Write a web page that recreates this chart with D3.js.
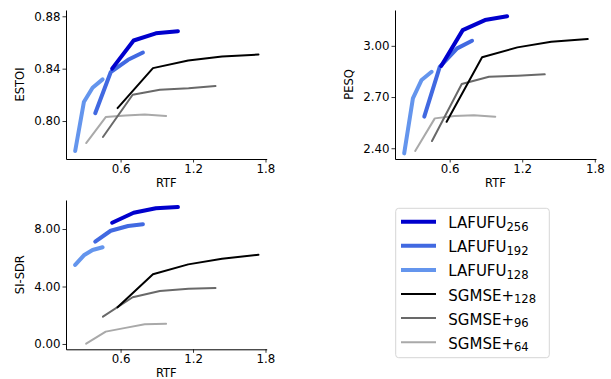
<!DOCTYPE html>
<html>
<head>
<meta charset="utf-8">
<script src="https://cdn.jsdelivr.net/npm/d3@7"></script>
<style>
  body { margin: 0; background: #fff; }
  svg { display: block; font-family: "DejaVu Sans", sans-serif; }
</style>
</head>
<body>
<div id="chart"></div>
<script>
// series names, as in the legend
const seriesNames = ["LAFUFU", "LAFUFU", "LAFUFU", "SGMSE+", "SGMSE+", "SGMSE+"];
const seriesSubs = ["256", "192", "128", "128", "96", "64"];

// RTF (x) for each series
const rtfLafufu256 = [0.53, 0.708, 0.892, 1.075];
const rtfLafufu192 = [0.39, 0.518, 0.662, 0.785];
const rtfLafufu128 = [0.224, 0.296, 0.368, 0.451];
const rtfSgmse128 = [0.575, 0.868, 1.16, 1.44, 1.742];
const rtfSgmse96 = [0.454, 0.70, 0.925, 1.163, 1.386];
const rtfSgmse64 = [0.315, 0.477, 0.64, 0.80, 0.977];

// ESTOI
const estoiLafufu256 = [0.840, 0.8615, 0.867, 0.8686];
const estoiLafufu192 = [0.806, 0.8373, 0.8468, 0.8523];
const estoiLafufu128 = [0.7771, 0.8145, 0.8254, 0.8318];
const estoiSgmse128 = [0.8099, 0.8404, 0.8462, 0.8493, 0.8508];
const estoiSgmse96 = [0.7878, 0.8201, 0.8239, 0.8251, 0.8267];
const estoiSgmse64 = [0.7832, 0.803, 0.8042, 0.8049, 0.8038];

// PESQ
const pesqLafufu256 = [2.882, 3.092, 3.151, 3.173];
const pesqLafufu192 = [2.585, 2.877, 2.985, 3.030];
const pesqLafufu128 = [2.370, 2.692, 2.800, 2.848];
const pesqSgmse128 = [2.555, 2.933, 2.991, 3.024, 3.040];
const pesqSgmse96 = [2.442, 2.776, 2.819, 2.825, 2.833];
const pesqSgmse64 = [2.384, 2.575, 2.589, 2.594, 2.585];

// SI-SDR
const sisdrLafufu256 = [8.44, 9.13, 9.44, 9.53];
const sisdrLafufu192 = [7.12, 7.88, 8.21, 8.33];
const sisdrLafufu128 = [5.50, 6.17, 6.54, 6.73];
const sisdrSgmse128 = [2.55, 4.85, 5.54, 5.93, 6.21];
const sisdrSgmse96 = [1.90, 3.25, 3.69, 3.85, 3.90];
const sisdrSgmse64 = [0.02, 0.86, 1.12, 1.37, 1.41];

// tick labels
const xTicks = [0.6, 1.2, 1.8];
const estoiTicks = [0.80, 0.84, 0.88];
const pesqTicks = [2.40, 2.70, 3.00];
const sisdrTicks = [0.00, 4.00, 8.00];

const rtfAll = [rtfLafufu256, rtfLafufu192, rtfLafufu128, rtfSgmse128, rtfSgmse96, rtfSgmse64];
const colors = ["#0000cd", "#4169e1", "#6495ed", "#000000", "#696969", "#a9a9a9"];
const widths = [4, 4, 4, 2, 2, 2];

const W = 611, H = 379;
const svg = d3.select("#chart").append("svg")
  .attr("width", W).attr("height", H);

const xLim = [0.148, 1.81];

function panel(opts) {
  const x = d3.scaleLinear().domain(xLim).range([opts.left, opts.right]);
  const y = d3.scaleLinear().domain(opts.yLim).range([opts.bottom, opts.top]);
  const g = svg.append("g");

  // lines, drawn last-to-first so the first legend entry sits on top
  const line = d3.line().x(d => x(d[0])).y(d => y(d[1]));
  for (let i = opts.values.length - 1; i >= 0; i--) {
    const pts = rtfAll[i].map((r, j) => [r, opts.values[i][j]]);
    g.append("path")
      .datum(pts)
      .attr("d", line)
      .attr("fill", "none")
      .attr("stroke", colors[i])
      .attr("stroke-width", widths[i])
      .attr("stroke-linecap", "round")
      .attr("stroke-linejoin", "round");
  }

  const xAxis = g.append("g")
    .attr("transform", `translate(0,${opts.bottom})`)
    .call(d3.axisBottom(x).tickValues(xTicks).tickFormat(d3.format(".1f"))
      .tickSize(3.5).tickSizeOuter(0).tickPadding(2));
  const yAxis = g.append("g")
    .attr("transform", `translate(${opts.left},0)`)
    .call(d3.axisLeft(y).tickValues(opts.yTicks).tickFormat(d3.format(".2f"))
      .tickSize(3.5).tickSizeOuter(0).tickPadding(2));
  [xAxis, yAxis].forEach(a => {
    a.selectAll("text").attr("font-size", 11.8).attr("fill", "#000")
      .attr("font-family", "DejaVu Sans, sans-serif");
    a.selectAll("line").attr("stroke", "#000").attr("stroke-width", 0.8);
    a.select(".domain").attr("stroke", "#000").attr("stroke-width", 1);
  });

  g.append("text")
    .attr("x", (opts.left + opts.right) / 2)
    .attr("y", opts.bottom + 28)
    .attr("text-anchor", "middle")
    .attr("font-size", 11.5)
    .text("RTF");
  const cy = (opts.top + opts.bottom) / 2;
  g.append("text")
    .attr("transform", `translate(${opts.labelX},${cy}) rotate(-90)`)
    .attr("text-anchor", "middle")
    .attr("font-size", 11.5)
    .text(opts.label);
}

panel({
  left: 66, right: 266.7, top: 10, bottom: 159,
  yLim: [0.7710, 0.8848], yTicks: estoiTicks, label: "ESTOI", labelX: 24,
  values: [estoiLafufu256, estoiLafufu192, estoiLafufu128, estoiSgmse128, estoiSgmse96, estoiSgmse64]
});
panel({
  left: 395, right: 596, top: 10, bottom: 159,
  yLim: [2.337, 3.21], yTicks: pesqTicks, label: "PESQ", labelX: 353,
  values: [pesqLafufu256, pesqLafufu192, pesqLafufu128, pesqSgmse128, pesqSgmse96, pesqSgmse64]
});
panel({
  left: 66, right: 266.7, top: 200, bottom: 349.3,
  yLim: [-0.37, 10.02], yTicks: sisdrTicks, label: "SI-SDR", labelX: 24,
  values: [sisdrLafufu256, sisdrLafufu192, sisdrLafufu128, sisdrSgmse128, sisdrSgmse96, sisdrSgmse64]
});

// legend
const leg = svg.append("g");
leg.append("rect")
  .attr("x", 395.7).attr("y", 208.3)
  .attr("width", 153.6).attr("height", 149.4)
  .attr("rx", 3)
  .attr("fill", "#fff").attr("stroke", "#d6d6d6").attr("stroke-width", 1);
seriesNames.forEach((name, i) => {
  const ly = 221.7 + i * 24.1;
  leg.append("line")
    .attr("x1", 401).attr("x2", 436)
    .attr("y1", ly).attr("y2", ly)
    .attr("stroke", colors[i])
    .attr("stroke-width", widths[i]);
  const t = leg.append("text")
    .attr("x", 448.3).attr("y", ly + 6.5)
    .attr("font-size", 15);
  t.append("tspan").text(name);
  t.append("tspan").attr("font-size", 11.6).attr("dy", 2.5).text(seriesSubs[i]);
});
</script>
</body>
</html>
